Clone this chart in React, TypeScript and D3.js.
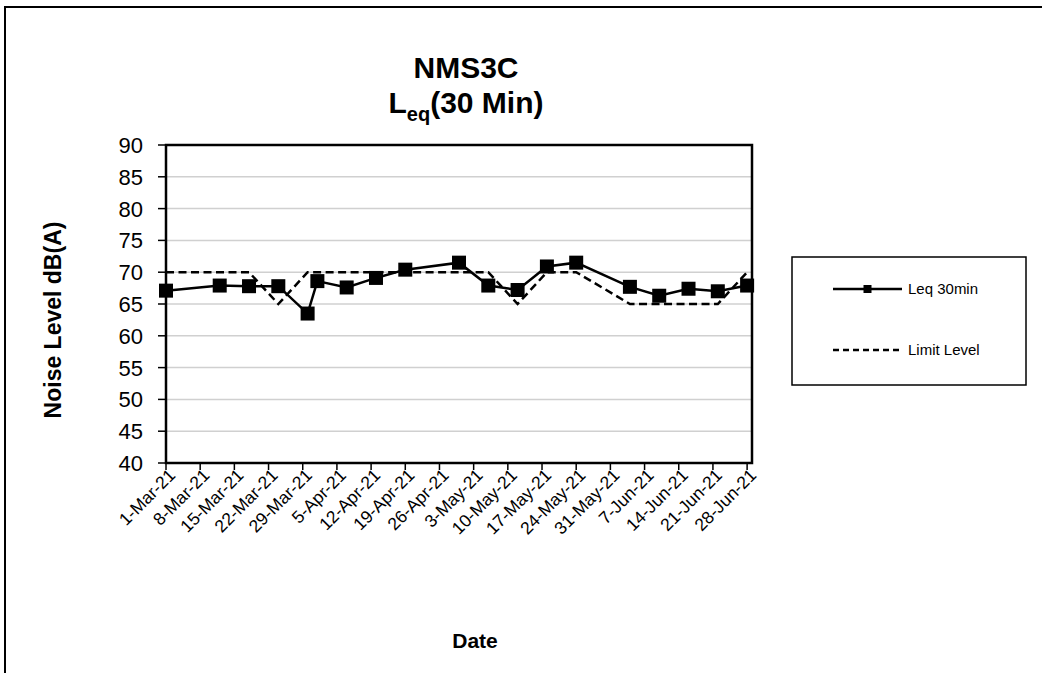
import * as d3 from "d3";

const DATES = [
  "2021-03-01", "2021-03-12", "2021-03-18", "2021-03-24", "2021-03-30",
  "2021-04-01", "2021-04-07", "2021-04-13", "2021-04-19", "2021-04-30",
  "2021-05-06", "2021-05-12", "2021-05-18", "2021-05-24", "2021-06-04",
  "2021-06-10", "2021-06-16", "2021-06-22", "2021-06-28",
];
const LEQ = [
  67.1, 67.9, 67.8, 67.8, 63.5, 68.6, 67.6, 69.1, 70.4, 71.5,
  67.9, 67.2, 70.9, 71.5, 67.7, 66.3, 67.4, 67.0, 67.9,
];
const LIMIT = [
  70, 70, 70, 65, 70, 70, 70, 70, 70, 70,
  70, 65, 70, 70, 65, 65, 65, 65, 70,
];
const Y_TICKS = [40, 45, 50, 55, 60, 65, 70, 75, 80, 85, 90];

const W = 1042;
const H = 673;
const M = { left: 166, right: 752, top: 145, bottom: 463 };
const FONT = "'Liberation Sans', Arial, sans-serif";

type Pt = { date: Date; leq: number; limit: number };

export default function App() {
  const parse = d3.timeParse("%Y-%m-%d");
  const data: Pt[] = DATES.map((d, i) => ({
    date: parse(d) as Date,
    leq: LEQ[i],
    limit: LIMIT[i],
  }));

  const start = data[0].date;
  const end = d3.timeDay.offset(data[data.length - 1].date, 1);
  const x = d3.scaleTime().domain([start, end]).range([M.left, M.right]);
  const y = d3.scaleLinear().domain([40, 90]).range([M.bottom, M.top]);
  const xTicks = d3.timeMonday.range(start, end);
  const fmt = d3.timeFormat("%-d-%b-%y");

  const leqLine = d3
    .line<Pt>()
    .x((d) => x(d.date))
    .y((d) => y(d.leq));
  const limitLine = d3
    .line<Pt>()
    .x((d) => x(d.date))
    .y((d) => y(d.limit));

  const ms = 14;

  return (
    <div style={{ position: "absolute", left: 0, top: 0 }}>
      <svg width={W} height={H} style={{ display: "block", fontFamily: FONT }}>
        <rect x={0} y={0} width={W} height={H} fill="#fff" />
        <rect
          x={5}
          y={7}
          width={W + 20}
          height={H + 20}
          fill="none"
          stroke="#000"
          strokeWidth={2}
        />

        {/* title */}
        <text x={466} y={78} textAnchor="middle" fontSize={30} fontWeight="bold">
          NMS3C
        </text>
        <text x={466} y={113} textAnchor="middle" fontSize={30} fontWeight="bold">
          <tspan>L</tspan>
          <tspan dy={8} fontSize={20}>eq</tspan>
          <tspan dy={-8}>(30 Min)</tspan>
        </text>

        {/* gridlines */}
        {Y_TICKS.map((t) => (
          <line
            key={"g" + t}
            x1={M.left}
            x2={M.right}
            y1={y(t)}
            y2={y(t)}
            stroke="#d0d0d0"
            strokeWidth={1.5}
          />
        ))}

        {/* y axis ticks & labels */}
        {Y_TICKS.map((t) => (
          <g key={"y" + t}>
            <line x1={M.left - 8} x2={M.left} y1={y(t)} y2={y(t)} stroke="#000" strokeWidth={1.5} />
            <text x={143} y={y(t)} dy="0.36em" textAnchor="end" fontSize={22}>
              {t}
            </text>
          </g>
        ))}

        {/* x axis ticks & labels */}
        {xTicks.map((t) => (
          <g key={"x" + t.getTime()}>
            <line x1={x(t)} x2={x(t)} y1={M.bottom} y2={M.bottom + 7} stroke="#000" strokeWidth={1.5} />
            <text
              transform={`translate(${x(t) + 6},${M.bottom + 9}) rotate(-45)`}
              textAnchor="end"
              dy="0.35em"
              fontSize={17.5}
            >
              {fmt(t)}
            </text>
          </g>
        ))}

        {/* series */}
        <path
          d={limitLine(data) ?? ""}
          fill="none"
          stroke="#000"
          strokeWidth={2.5}
          strokeDasharray="8,4.5"
        />
        <path d={leqLine(data) ?? ""} fill="none" stroke="#000" strokeWidth={2.5} />
        {data.map((d, i) => (
          <rect
            key={"m" + i}
            x={x(d.date) - ms / 2}
            y={y(d.leq) - ms / 2}
            width={ms}
            height={ms}
            fill="#000"
          />
        ))}

        {/* plot frame */}
        <rect
          x={M.left}
          y={M.top}
          width={M.right - M.left}
          height={M.bottom - M.top}
          fill="none"
          stroke="#000"
          strokeWidth={2.5}
        />

        {/* axis titles */}
        <text
          transform="translate(61,320) rotate(-90)"
          textAnchor="middle"
          fontSize={23}
          fontWeight="bold"
        >
          Noise Level dB(A)
        </text>
        <text x={475} y={648} textAnchor="middle" fontSize={21} fontWeight="bold">
          Date
        </text>

        {/* legend */}
        <rect x={792} y={257} width={234} height={128} fill="#fff" stroke="#000" strokeWidth={1.5} />
        <line x1={833} x2={902} y1={289} y2={289} stroke="#000" strokeWidth={2.5} />
        <rect x={867.5 - 4} y={289 - 4} width={8} height={8} fill="#000" />
        <text x={908} y={289} dy="0.36em" fontSize={15}>
          Leq 30min
        </text>
        <line
          x1={833}
          x2={902}
          y1={350}
          y2={350}
          stroke="#000"
          strokeWidth={2.5}
          strokeDasharray="6,4"
        />
        <text x={908} y={350} dy="0.36em" fontSize={15}>
          Limit Level
        </text>
      </svg>
    </div>
  );
}
